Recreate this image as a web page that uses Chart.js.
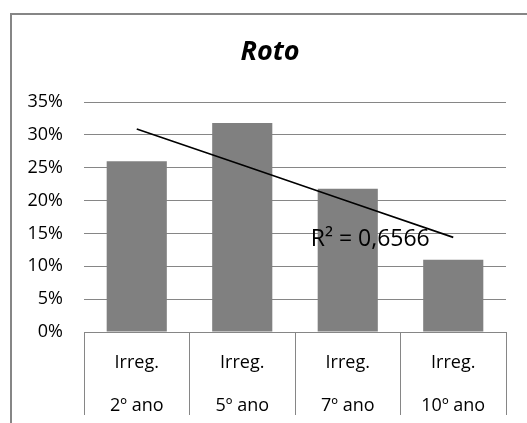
<!DOCTYPE html>
<html>
<head>
<meta charset="utf-8">
<script src="https://cdn.jsdelivr.net/npm/chart.js@4.4.0/dist/chart.umd.min.js"></script>
<style>
  html, body { margin: 0; padding: 0; background: #fff; }
  canvas { display: block; }
</style>
</head>
<body>
<canvas id="myChart" width="527" height="423"></canvas>
<script>
// Datos
var titulo = "Roto";
var categorias = [["Irreg.", "2º ano"], ["Irreg.", "5º ano"], ["Irreg.", "7º ano"], ["Irreg.", "10º ano"]];
var valores = [26.0, 31.8, 21.8, 11.0];
var tendencia = [30.9, 25.4, 19.9, 14.4];
var yTicks = [0, 5, 10, 15, 20, 25, 30, 35];
var textoR2 = "R² = 0,6566";

var fuente = "'Open Sans', 'Liberation Sans', sans-serif";
var gris = "#868686";

// Marco exterior, título y etiqueta R²
var extras = {
  id: 'extras',
  beforeDraw: function(chart) {
    var ctx = chart.ctx;
    ctx.save();
    ctx.strokeStyle = gris;
    ctx.lineWidth = 2;
    ctx.strokeRect(11, 14, 600, 600);
    // título centrado en el marco
    ctx.font = "italic bold 27px " + fuente;
    ctx.fillStyle = "#000";
    ctx.textAlign = "center";
    ctx.textBaseline = "middle";
    ctx.fillText(titulo, 270, 52);
    ctx.restore();
  },
  afterDatasetsDraw: function(chart) {
    var ctx = chart.ctx;
    var x = chart.scales.x.getPixelForValue(2) - 37;
    var y = chart.scales.y.getPixelForValue(14.1);
    ctx.save();
    ctx.font = "23px " + fuente;
    ctx.fillStyle = "#000";
    ctx.textBaseline = "middle";
    ctx.textAlign = "left";
    ctx.fillText(textoR2, x, y);
    ctx.restore();
  }
};

var ctx = document.getElementById('myChart').getContext('2d');
var myChart = new Chart(ctx, {
  type: 'bar',
  data: {
    labels: categorias,
    datasets: [{
      type: 'line',
      data: tendencia,
      borderColor: '#000',
      borderWidth: 1.6,
      pointRadius: 0,
      fill: false,
      order: 0
    }, {
      data: valores,
      backgroundColor: '#808080',
      barPercentage: 0.57,
      categoryPercentage: 1,
      order: 1
    }]
  },
  options: {
    responsive: false,
    animation: false,
    layout: { padding: { left: 0, right: 21, top: 102, bottom: 0 } },
    plugins: {
      legend: { display: false },
      tooltip: { enabled: false },
      title: { display: false }
    },
    scales: {
      x: {
        offset: true,
        grid: {
          offset: true,
          drawOnChartArea: false,
          drawTicks: true,
          tickLength: 83,
          color: gris,
          lineWidth: 1
        },
        border: { display: true, color: gris },
        ticks: {
          color: '#000',
          font: { family: fuente, size: 18, lineHeight: 2.35 },
          padding: -73,
          maxRotation: 0
        },
        afterFit: function(scale) { scale.height = 91; }
      },
      y: {
        min: 0,
        max: 35,
        afterBuildTicks: function(scale) {
          scale.ticks = yTicks.map(function(v) { return { value: v }; });
        },
        grid: { color: gris, lineWidth: 1, drawTicks: false },
        border: { display: false },
        ticks: {
          color: '#000',
          padding: 21,
          font: { family: fuente, size: 18 },
          callback: function(v) { return v + '%'; }
        },
        afterFit: function(scale) { scale.width = 84; }
      }
    }
  },
  plugins: [extras]
});
</script>
</body>
</html>
